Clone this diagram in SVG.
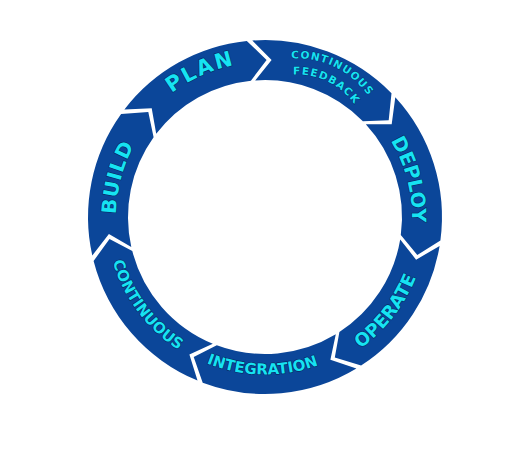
<svg xmlns="http://www.w3.org/2000/svg" width="512" height="470" viewBox="0 0 512 470">
<style>
.seg{fill:#0B4699;}
.lbl{font-family:"DejaVu Sans","Liberation Sans",sans-serif;font-weight:bold;fill:#16E3F2;stroke:#062a66;stroke-width:1.3;paint-order:stroke fill;stroke-linejoin:round;text-anchor:middle;}
.sm{stroke-width:0.9;}
</style>
<defs>
<path id="pBuild" d="M121.1,255.6 A149,149 0 0 1 159.6,111.6"/>
<path id="pPlan" d="M139.6,125.9 A155,155 0 0 1 281.2,62.8"/>
<path id="pCont1" d="M248.5,73.2 A86.5,86.5 0 0 1 383.3,139.0"/>
<path id="pFeed" d="M257.6,86.6 A70.5,70.5 0 0 1 367.3,140.1"/>
<path id="pDeploy" d="M304.0,75.3 A147,147 0 0 1 368.2,321.7"/>
<path id="pOperate" d="M242.7,378.0 A162.5,162.5 0 0 0 415.6,155.9"/>
<path id="pInteg" d="M127.3,293.4 A157.5,157.5 0 0 0 400.0,298.1"/>
<path id="pCont2" d="M119.5,154.1 A158.5,158.5 0 0 0 283.2,374.5"/>
</defs>
<rect width="512" height="470" fill="#ffffff"/>
<g id="connectors"></g>
<g id="build">
<path class="seg" d="M92.3,255.6 A177,177 0 0 1 121.1,114.0 L148.3,112.0 L153.6,137.3 A137,137 0 0 0 131.3,246.9 L108.9,234.0 Z"/>
<text class="lbl" font-size="20" letter-spacing="0.8"><textPath href="#pBuild" startOffset="50%">BUILD</textPath></text>
</g>
<g id="plan">
<path class="seg" d="M124.4,109.5 A177,177 0 0 1 246.8,40.9 L266.6,60.0 L250.9,80.7 A137,137 0 0 0 156.2,133.8 L151.7,108.3 Z"/>
<text class="lbl" font-size="21" letter-spacing="2"><textPath href="#pPlan" startOffset="50%">PLAN</textPath></text>
</g>
<g id="continuous-feedback">
<path class="seg" d="M252.3,40.5 A177,177 0 0 1 391.5,93.2 L388.7,120.3 L362.9,121.2 A137,137 0 0 0 255.2,80.4 L271.6,60.1 Z"/>
<text class="lbl sm" font-size="10.5" letter-spacing="1.1"><textPath href="#pCont1" startOffset="50%">CONTINUOUS</textPath></text>
<text class="lbl sm" font-size="10.5" letter-spacing="1.2"><textPath href="#pFeed" startOffset="50%">FEEDBACK</textPath></text>
</g>
<g id="deploy">
<path class="seg" d="M395.3,97.2 A177,177 0 0 1 440.4,240.4 L417.3,255.0 L400.8,235.1 A137,137 0 0 0 365.8,124.3 L391.7,124.3 Z"/>
<text class="lbl" font-size="19.5"><textPath href="#pDeploy" startOffset="50%">DEPLOY</textPath></text>
</g>
<g id="operate">
<path class="seg" d="M439.6,245.9 A177,177 0 0 1 361.1,365.6 L334.8,357.6 L339.4,332.0 A137,137 0 0 0 400.2,239.4 L416.1,259.7 Z"/>
<text class="lbl" font-size="18"><textPath href="#pOperate" startOffset="50%">OPERATE</textPath></text>
</g>
<g id="integration">
<path class="seg" d="M356.4,368.6 A177,177 0 0 1 202.7,382.7 L193.7,356.9 L216.8,345.2 A137,137 0 0 0 335.8,334.3 L330.4,359.8 Z"/>
<text class="lbl" font-size="15"><textPath href="#pInteg" startOffset="50%">INTEGRATION</textPath></text>
</g>
<g id="continuous">
<path class="seg" d="M197.5,380.6 A177,177 0 0 1 93.6,261.0 L109.5,238.9 L132.3,251.1 A137,137 0 0 0 212.8,343.7 L189.4,354.6 Z"/>
<text class="lbl" font-size="15"><textPath href="#pCont2" startOffset="50%">CONTINUOUS</textPath></text>
</g>
</svg>
